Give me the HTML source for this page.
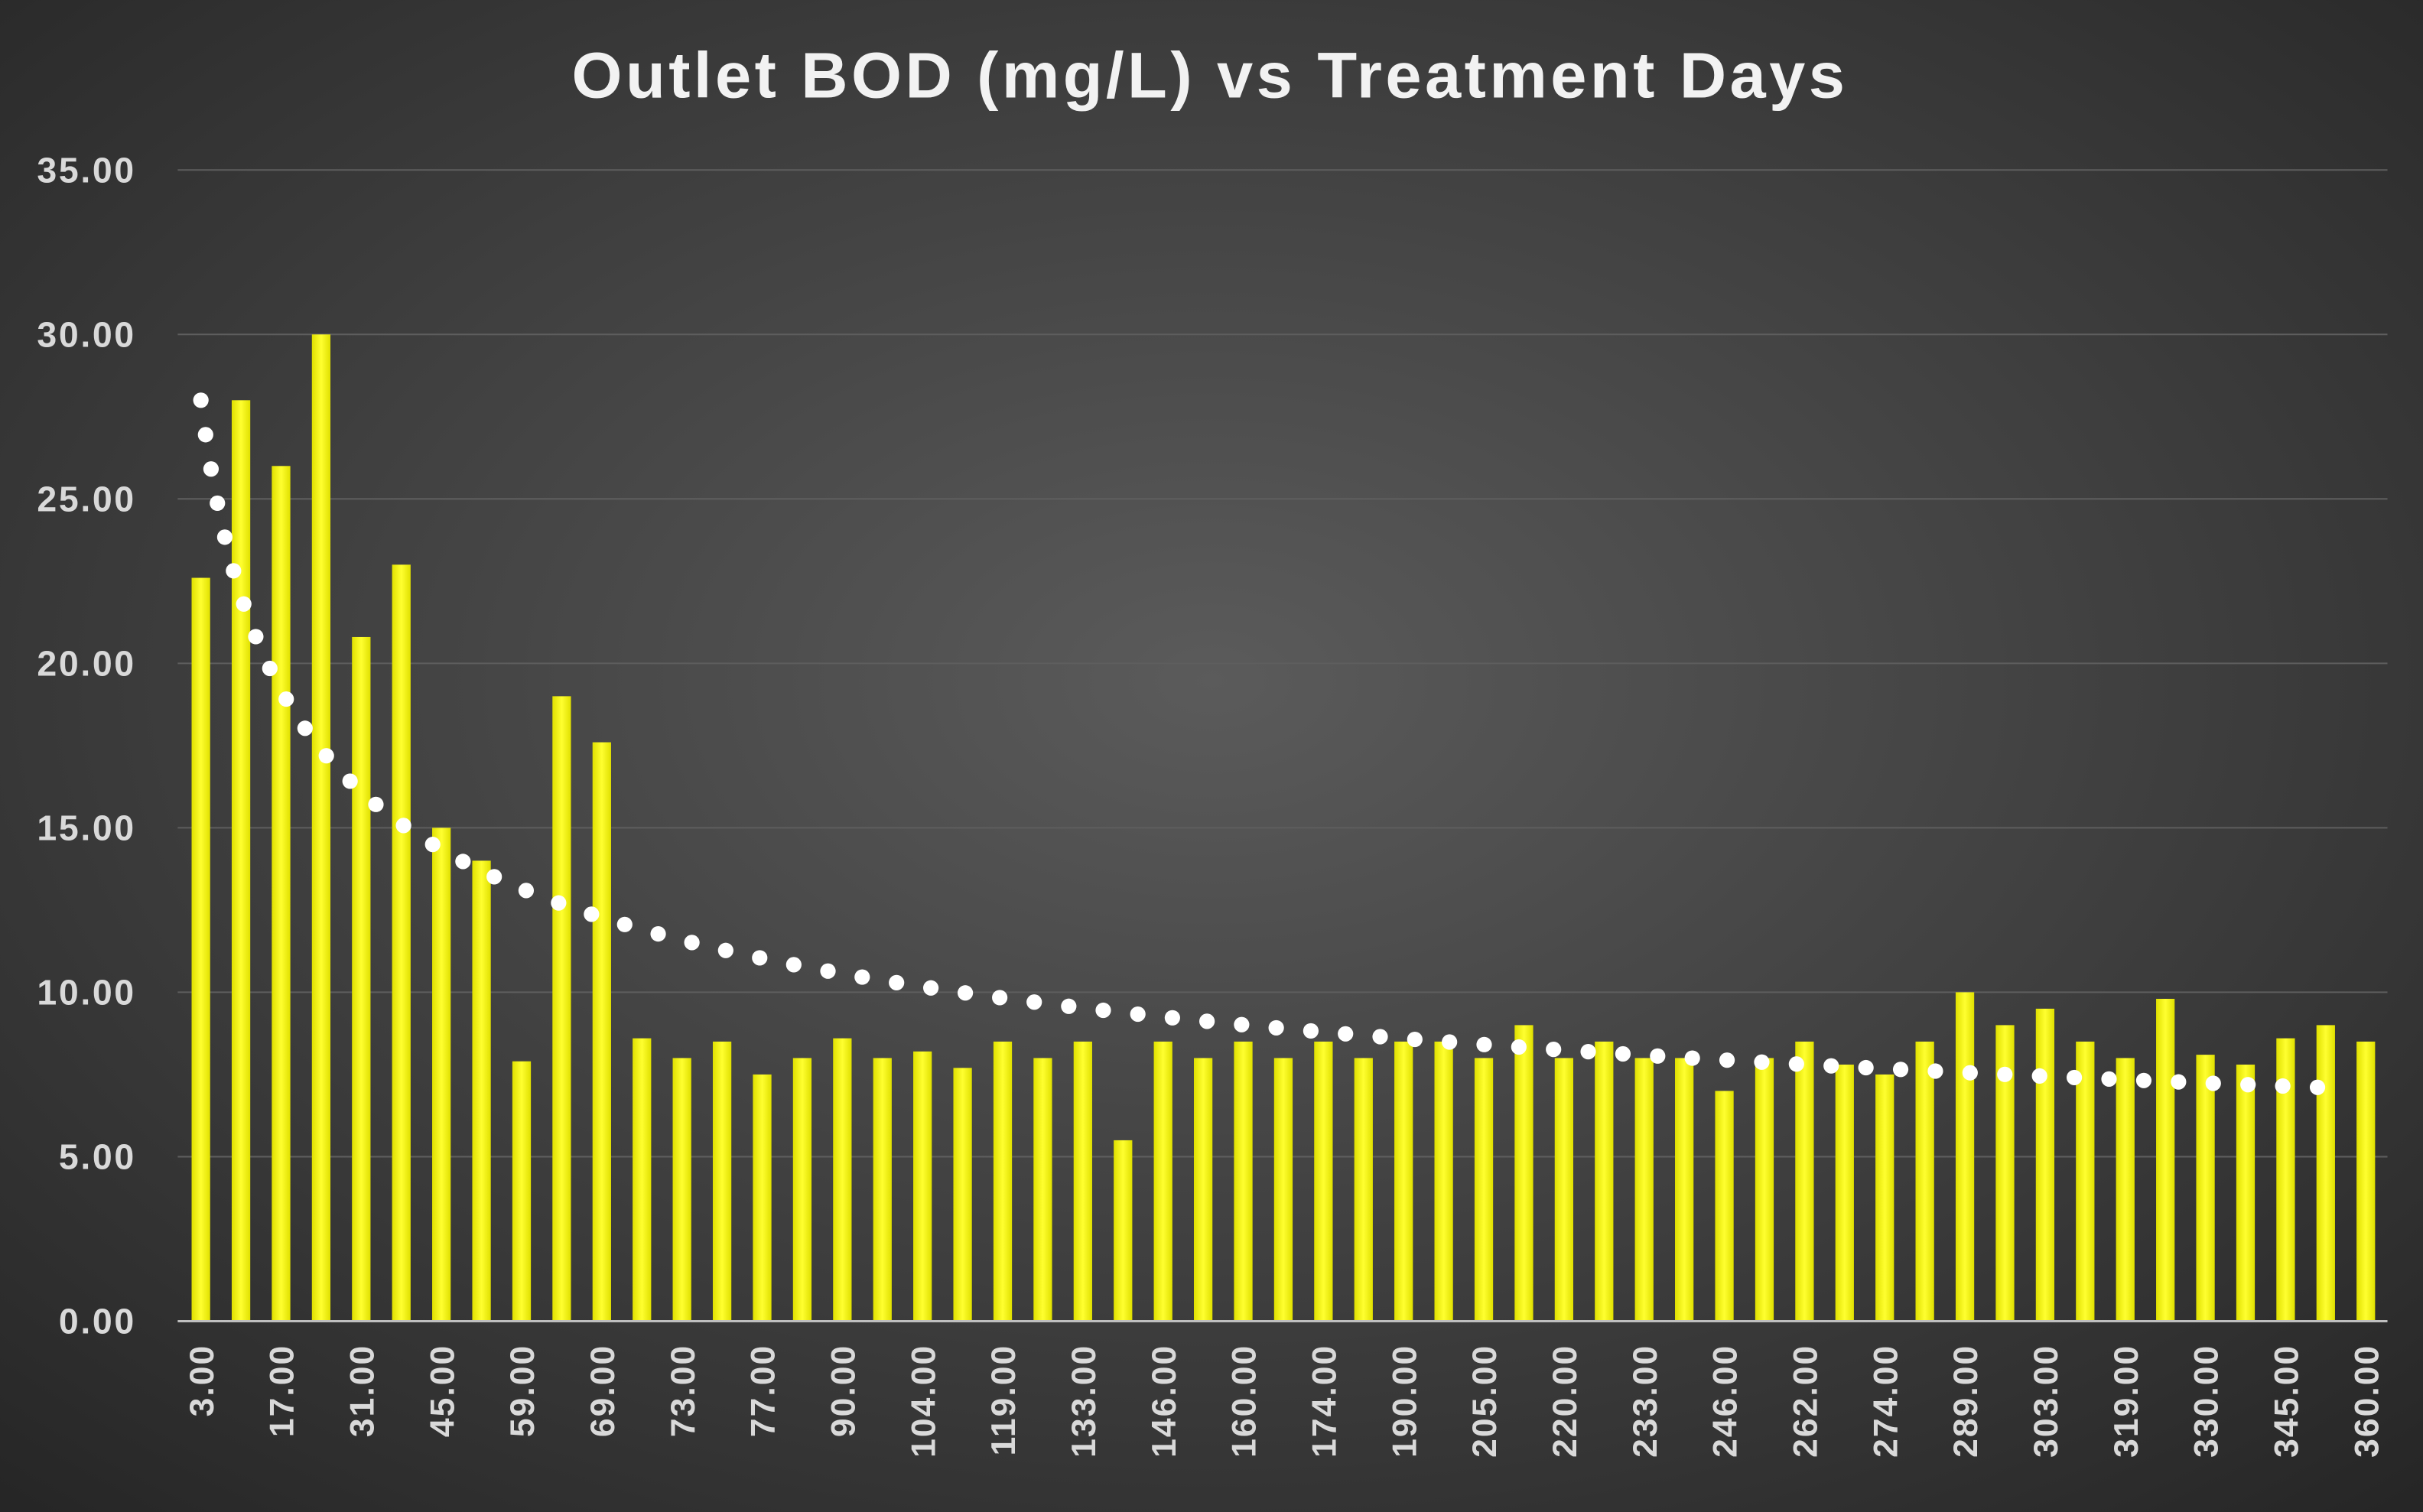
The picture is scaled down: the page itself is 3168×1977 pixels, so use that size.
<!DOCTYPE html>
<html><head><meta charset="utf-8">
<style>
html,body{margin:0;padding:0;background:#262626;}
svg{display:block;}
text{font-family:"Liberation Sans",sans-serif;}
</style></head>
<body>
<svg id="c" width="3168" height="1977" viewBox="0 0 1568 978.5" xmlns="http://www.w3.org/2000/svg">
<defs>
<radialGradient id="bg" cx="0.5" cy="0.45" r="0.75">
<stop offset="0" stop-color="#5b5b5b"/>
<stop offset="1" stop-color="#252525"/>
</radialGradient>
<linearGradient id="bar" x1="0" y1="0" x2="1" y2="0">
<stop offset="0" stop-color="#e0e000"/>
<stop offset="0.5" stop-color="#ffff30"/>
<stop offset="1" stop-color="#e0e000"/>
</linearGradient>
</defs>
<rect width="1568" height="978.5" fill="url(#bg)"/>
<text x="783" y="63" text-anchor="middle" font-size="42" font-weight="bold" letter-spacing="2.2" fill="#f2f2f2">Outlet BOD (mg/L) vs Treatment Days</text>
<g id="g"></g>
</svg>
<script>
var g=document.getElementById('g'),h='';
var y0=855,pu=(855-110)/35;
function Y(v){return y0-v*pu;}
for(var i=0;i<=7;i++){var y=Y(i*5);
 if(i>0)h+='<line x1="115" x2="1545" y1="'+y+'" y2="'+y+'" stroke="#5e5e5e" stroke-width="1"/>';
 h+='<text x="88" y="'+(y+8)+'" text-anchor="end" font-size="23" font-weight="bold" letter-spacing="1.3" fill="#d9d9d9">'+(i*5).toFixed(2)+'</text>';}
var v=[22.6,28,26,30,20.8,23,15,14,7.9,19,17.6,8.6,8,8.5,7.5,8,8.6,8,8.2,7.7,8.5,8,8.5,5.5,8.5,8,8.5,8,8.5,8,8.5,8.5,8,9,8,8.5,8,8,7,8,8.5,7.8,7.5,8.5,10,9,9.5,8.5,8,9.8,8.1,7.8,8.6,9,8.5];
var L=[3,17,31,45,59,69,73,77,90,104,119,133,146,160,174,190,205,220,233,246,262,274,289,303,319,330,345,360];
var sp=(1531-130)/54;
for(var i=0;i<55;i++){var x=130+i*sp;
 h+='<rect x="'+(x-6)+'" y="'+Y(v[i])+'" width="12" height="'+(v[i]*pu)+'" fill="url(#bar)"/>';}
h+='<line x1="115" x2="1545" y1="855" y2="855" stroke="#bfbfbf" stroke-width="1.5"/>';
for(var j=0;j<28;j++){var x=130+2*j*sp;
 h+='<text transform="translate('+(x+8)+',870) rotate(-90)" text-anchor="end" font-size="22" font-weight="bold" letter-spacing="1" fill="#d9d9d9">'+L[j].toFixed(2)+'</text>';}
var p='';for(var t=1;t<=54;t+=0.05){var x=130+(t-1)*sp;p+=(p?'L':'M')+x.toFixed(2)+' '+Y(28*Math.pow(t,-0.344)).toFixed(2);}
h+='<path d="'+p+'" fill="none" stroke="#fff" stroke-width="10" stroke-linecap="round" stroke-dasharray="0 22.5"/>';
g.innerHTML=h;
</script>
</body></html>
